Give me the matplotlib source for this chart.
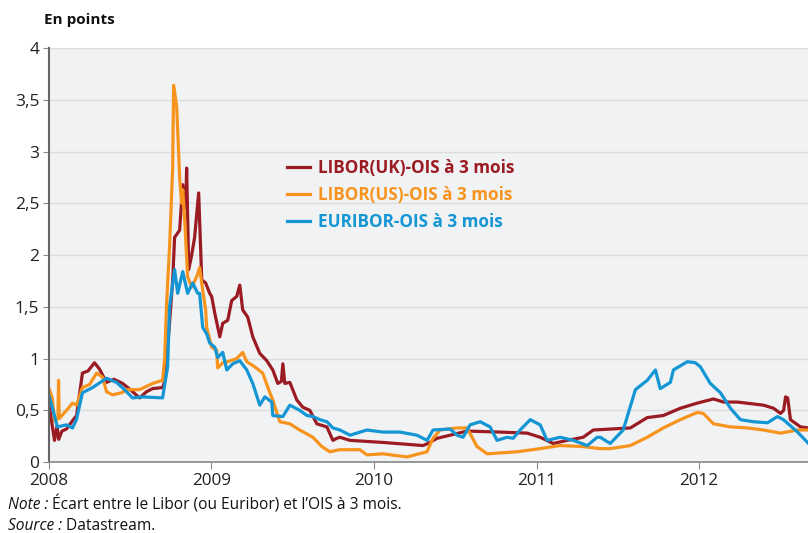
import numpy as np
import matplotlib
matplotlib.use("Agg")
import matplotlib.pyplot as plt

plt.rcParams['font.family'] = ['Open Sans', 'DejaVu Sans']

# Spreads (points), dates as decimal years
uk_t = [2008.003, 2008.034, 2008.05, 2008.06, 2008.08, 2008.108, 2008.145, 2008.17, 2008.206, 2008.24,
        2008.28, 2008.31, 2008.354, 2008.40, 2008.453, 2008.50, 2008.558, 2008.60, 2008.638, 2008.699,
        2008.712, 2008.73, 2008.761, 2008.773, 2008.804, 2008.823, 2008.841, 2008.847, 2008.86, 2008.878,
        2008.896, 2008.921, 2008.94, 2008.964, 2008.989, 2009.001, 2009.02, 2009.051, 2009.069, 2009.10,
        2009.124, 2009.155, 2009.174, 2009.192, 2009.223, 2009.254, 2009.297, 2009.34, 2009.377, 2009.408,
        2009.43, 2009.439, 2009.451, 2009.482, 2009.525, 2009.562, 2009.605, 2009.648, 2009.71, 2009.747,
        2009.771, 2009.79, 2009.852, 2010.055, 2010.301, 2010.332, 2010.388, 2010.468, 2010.572, 2010.776,
        2010.942, 2011.022, 2011.102, 2011.189, 2011.287, 2011.349, 2011.577, 2011.681, 2011.78, 2011.884,
        2011.989, 2012.088, 2012.15, 2012.236, 2012.396, 2012.458, 2012.501, 2012.52, 2012.532, 2012.545,
        2012.562, 2012.624, 2012.673]
uk_v = [0.53, 0.21, 0.35, 0.22, 0.30, 0.32, 0.40, 0.45, 0.86, 0.88,
        0.96, 0.90, 0.77, 0.80, 0.76, 0.70, 0.62, 0.68, 0.71, 0.72,
        0.78, 1.10, 1.75, 2.17, 2.24, 2.68, 2.45, 2.84, 1.86, 2.00,
        2.17, 2.60, 1.76, 1.73, 1.63, 1.60, 1.44, 1.21, 1.34, 1.37,
        1.56, 1.60, 1.71, 1.47, 1.40, 1.21, 1.05, 0.98, 0.89, 0.76,
        0.78, 0.95, 0.76, 0.77, 0.60, 0.53, 0.50, 0.37, 0.34, 0.21,
        0.23, 0.24, 0.21, 0.19, 0.16, 0.18, 0.23, 0.26, 0.30, 0.29,
        0.28, 0.24, 0.18, 0.21, 0.24, 0.31, 0.33, 0.43, 0.45, 0.52,
        0.57, 0.61, 0.58, 0.58, 0.55, 0.52, 0.47, 0.50, 0.63, 0.62,
        0.41, 0.34, 0.33]

us_t = [2008.003, 2008.02, 2008.034, 2008.055, 2008.059, 2008.063, 2008.08, 2008.108, 2008.145, 2008.17,
        2008.206, 2008.25, 2008.293, 2008.33, 2008.354, 2008.391, 2008.447, 2008.478, 2008.558, 2008.638,
        2008.699, 2008.712, 2008.724, 2008.742, 2008.761, 2008.767, 2008.786, 2008.804, 2008.816, 2008.823,
        2008.835, 2008.853, 2008.878, 2008.909, 2008.927, 2008.946, 2008.964, 2008.97, 2009.001, 2009.032,
        2009.038, 2009.069, 2009.10, 2009.155, 2009.192, 2009.217, 2009.266, 2009.315, 2009.359, 2009.377,
        2009.42, 2009.482, 2009.543, 2009.624, 2009.679, 2009.728, 2009.79, 2009.913, 2009.956, 2010.055,
        2010.203, 2010.326, 2010.363, 2010.406, 2010.511, 2010.572, 2010.634, 2010.696, 2010.88, 2011.022,
        2011.145, 2011.287, 2011.392, 2011.453, 2011.577, 2011.681, 2011.78, 2011.884, 2011.989, 2012.026,
        2012.088, 2012.193, 2012.297, 2012.396, 2012.501, 2012.606, 2012.673]
us_v = [0.70, 0.62, 0.40, 0.42, 0.79, 0.42, 0.45, 0.50, 0.57, 0.55,
        0.72, 0.75, 0.86, 0.82, 0.68, 0.65, 0.67, 0.70, 0.70, 0.76,
        0.79, 1.00, 1.54, 2.08, 2.84, 3.64, 3.43, 2.75, 2.50, 2.63,
        2.34, 1.79, 1.69, 1.79, 1.88, 1.66, 1.47, 1.30, 1.11, 1.08,
        0.91, 0.96, 0.97, 1.00, 1.06, 0.97, 0.92, 0.86, 0.67, 0.60,
        0.39, 0.37, 0.31, 0.24, 0.15, 0.10, 0.12, 0.12, 0.07, 0.08,
        0.05, 0.10, 0.23, 0.31, 0.33, 0.33, 0.15, 0.08, 0.10, 0.13,
        0.16, 0.15, 0.13, 0.13, 0.16, 0.24, 0.33, 0.41, 0.48, 0.47,
        0.37, 0.34, 0.33, 0.31, 0.28, 0.31, 0.31]

eu_t = [2008.003, 2008.052, 2008.108, 2008.145, 2008.169, 2008.206, 2008.268, 2008.354, 2008.416, 2008.465,
        2008.514, 2008.576, 2008.699, 2008.73, 2008.742, 2008.773, 2008.792, 2008.823, 2008.853, 2008.884,
        2008.915, 2008.927, 2008.946, 2008.97, 2008.989, 2009.02, 2009.038, 2009.069, 2009.094, 2009.131,
        2009.174, 2009.217, 2009.254, 2009.297, 2009.328, 2009.371, 2009.377, 2009.439, 2009.482, 2009.543,
        2009.587, 2009.624, 2009.667, 2009.71, 2009.747, 2009.79, 2009.852, 2009.956, 2010.055, 2010.16,
        2010.264, 2010.326, 2010.363, 2010.468, 2010.511, 2010.548, 2010.591, 2010.653, 2010.714, 2010.757,
        2010.819, 2010.856, 2010.899, 2010.961, 2011.022, 2011.065, 2011.145, 2011.226, 2011.312, 2011.373,
        2011.392, 2011.453, 2011.533, 2011.589, 2011.608, 2011.681, 2011.731, 2011.761, 2011.823, 2011.842,
        2011.928, 2011.977, 2012.008, 2012.069, 2012.131, 2012.193, 2012.254, 2012.334, 2012.421, 2012.482,
        2012.519, 2012.606, 2012.673]
eu_v = [0.63, 0.34, 0.36, 0.33, 0.41, 0.67, 0.72, 0.81, 0.77, 0.70,
        0.62, 0.63, 0.62, 0.92, 1.50, 1.86, 1.63, 1.84, 1.63, 1.73,
        1.63, 1.63, 1.30, 1.24, 1.15, 1.11, 1.01, 1.06, 0.89, 0.95,
        0.98, 0.89, 0.76, 0.55, 0.63, 0.58, 0.45, 0.44, 0.55, 0.50,
        0.45, 0.44, 0.41, 0.39, 0.33, 0.31, 0.26, 0.31, 0.29, 0.29,
        0.26, 0.21, 0.31, 0.32, 0.26, 0.24, 0.36, 0.39, 0.34, 0.21,
        0.24, 0.23, 0.31, 0.41, 0.36, 0.21, 0.24, 0.21, 0.16, 0.24,
        0.24, 0.18, 0.31, 0.60, 0.70, 0.79, 0.89, 0.71, 0.77, 0.89,
        0.97, 0.96, 0.92, 0.76, 0.67, 0.52, 0.41, 0.39, 0.38, 0.44,
        0.41, 0.29, 0.18]

labels = ['LIBOR(UK)-OIS à 3 mois', 'LIBOR(US)-OIS à 3 mois', 'EURIBOR-OIS à 3 mois']
colors = ['#9b1b22', '#f7941e', '#1496d4']
years = [2008, 2009, 2010, 2011, 2012]
yticks = [0, 0.5, 1, 1.5, 2, 2.5, 3, 3.5, 4]

fig = plt.figure(figsize=(8.08, 5.33), dpi=100)
ax = fig.add_axes([0.0606, 0.133, 0.94, 0.777])
ax.set_facecolor('#f1f2f4')

for t, v, lab, c in zip([uk_t, us_t, eu_t], [uk_v, us_v, eu_v], labels, colors):
    ax.plot(t, v, color=c, lw=2.3, label=lab, solid_joinstyle='round')

ax.set_xlim(2008, 2012.673)
ax.set_ylim(0, 4)
ax.set_xticks(years)
ax.set_xticklabels([str(y) for y in years], fontsize=12.3, color='#222222')
ax.set_yticks(yticks)
ax.set_yticklabels([('%g' % y).replace('.', ',') for y in yticks], fontsize=12.5, color='#222222')
ax.yaxis.grid(True, color='#dcdcdc', lw=1)
ax.set_axisbelow(True)
ax.tick_params(axis='y', length=4, color='#888888', pad=3)
ax.tick_params(axis='x', length=5, color='#888888', pad=3)
for s in ['top', 'right']:
    ax.spines[s].set_visible(False)
ax.spines['left'].set_color('#666666')
ax.spines['left'].set_linewidth(1.5)
ax.spines['bottom'].set_color('#888888')
ax.spines['bottom'].set_linewidth(1.2)

leg = ax.legend(loc='upper left', bbox_to_anchor=(0.293, 0.768), frameon=False,
                handlelength=1.35, handletextpad=0.5, labelspacing=0.5,
                prop={'size': 12.3, 'weight': 'bold'}, labelcolor='linecolor')

fig.text(44 / 808, 1 - 20 / 533, 'En points', fontsize=11, fontweight='bold', va='center', color='#111111')

n1 = fig.text(8 / 808, 1 - 505 / 533, 'Note :', fontsize=11.2, style='italic', va='center', color='#111111')
ax.annotate(' Écart entre le Libor (ou Euribor) et l’OIS à 3 mois.', xy=(1, 0.5), xycoords=n1,
            va='center', fontsize=11.2, color='#111111', annotation_clip=False)
s1 = fig.text(8 / 808, 1 - 526 / 533, 'Source :', fontsize=11.2, style='italic', va='center', color='#111111')
ax.annotate(' Datastream.', xy=(1, 0.5), xycoords=s1,
            va='center', fontsize=11.2, color='#111111', annotation_clip=False)

fig.savefig('out.png', dpi=100)
